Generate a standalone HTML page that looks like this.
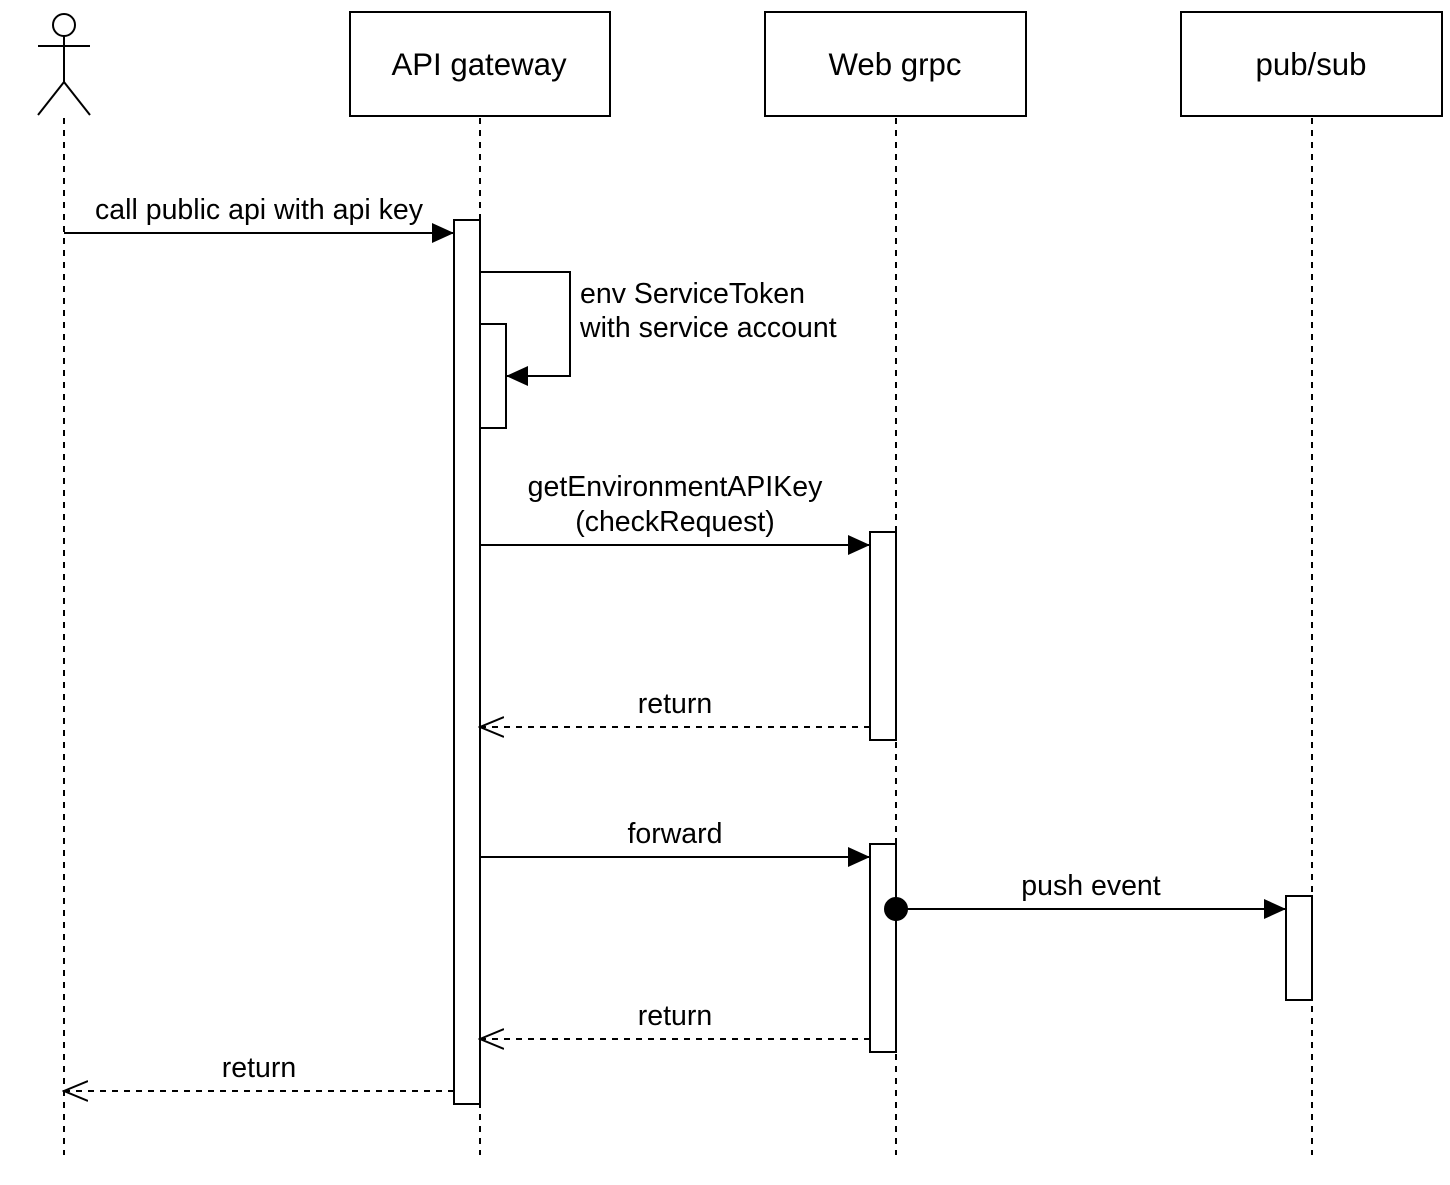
<!DOCTYPE html>
<html><head><meta charset="utf-8"><style>body{margin:0;background:#fff}</style></head>
<body>
<svg width="1450" height="1180" xmlns="http://www.w3.org/2000/svg" font-family="Liberation Sans, Arial, sans-serif" font-size="27" fill="none" stroke="#000" stroke-width="2">
<defs>
<marker id="f" markerWidth="24" markerHeight="20" refX="22" refY="10" orient="auto" markerUnits="userSpaceOnUse"><path d="M0,0 L22,10 L0,20 Z" fill="#000" stroke="none"/></marker>
<marker id="o" markerWidth="26" markerHeight="22" refX="24" refY="11" orient="auto" markerUnits="userSpaceOnUse"><path d="M0,1 L24,11 L0,21" fill="none" stroke="#000" stroke-width="2"/></marker>
</defs>
<circle cx="64" cy="25" r="11" fill="#fff"/>
<line x1="64" y1="36" x2="64" y2="82"/>
<line x1="38" y1="46" x2="90" y2="46"/>
<line x1="64" y1="82" x2="38" y2="115"/>
<line x1="64" y1="82" x2="90" y2="115"/>
<rect x="350" y="12" width="260" height="104" fill="#fff"/>
<rect x="765" y="12" width="261" height="104" fill="#fff"/>
<rect x="1181" y="12" width="261" height="104" fill="#fff"/>
<g fill="#000" stroke="none" font-size="31.2" text-anchor="middle">
<text x="479" y="75">API gateway</text>
<text x="895" y="75">Web grpc</text>
<text x="1311" y="75">pub/sub</text>
</g>
<g stroke-dasharray="6,6">
<line x1="64" y1="118" x2="64" y2="1155"/>
<line x1="480" y1="118" x2="480" y2="1155"/>
<line x1="896" y1="118" x2="896" y2="1155"/>
<line x1="1312" y1="118" x2="1312" y2="1155"/>
</g>
<rect x="454" y="220" width="26" height="884" fill="#fff"/>
<rect x="480" y="324" width="26" height="104" fill="#fff"/>
<rect x="870" y="532" width="26" height="208" fill="#fff"/>
<rect x="870" y="844" width="26" height="208" fill="#fff"/>
<rect x="1286" y="896" width="26" height="104" fill="#fff"/>
<line x1="64" y1="233" x2="454" y2="233" marker-end="url(#f)"/>
<polyline points="480,272 570,272 570,376 506,376" marker-end="url(#f)"/>
<line x1="480" y1="545" x2="870" y2="545" marker-end="url(#f)"/>
<line x1="870" y1="727" x2="480" y2="727" stroke-dasharray="6,6" marker-end="url(#o)"/>
<line x1="480" y1="857" x2="870" y2="857" marker-end="url(#f)"/>
<line x1="896" y1="909" x2="1286" y2="909" marker-end="url(#f)"/>
<circle cx="896" cy="909" r="11" fill="#000"/>
<line x1="870" y1="1039" x2="480" y2="1039" stroke-dasharray="6,6" marker-end="url(#o)"/>
<line x1="454" y1="1091" x2="64" y2="1091" stroke-dasharray="6,6" marker-end="url(#o)"/>
<g fill="#000" stroke="none" font-size="28.5">
<text x="259" y="219" text-anchor="middle">call public api with api key</text>
<text x="580" y="303">env ServiceToken</text>
<text x="580" y="337">with service account</text>
<text x="675" y="496" text-anchor="middle">getEnvironmentAPIKey</text>
<text x="675" y="531" text-anchor="middle">(checkRequest)</text>
<text x="675" y="713" text-anchor="middle">return</text>
<text x="675" y="843" text-anchor="middle">forward</text>
<text x="1091" y="895" text-anchor="middle">push event</text>
<text x="675" y="1025" text-anchor="middle">return</text>
<text x="259" y="1077" text-anchor="middle">return</text>
</g>
</svg>
</body></html>
